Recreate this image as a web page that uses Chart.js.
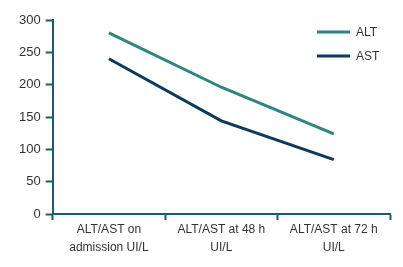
<!DOCTYPE html>
<html>
<head>
<meta charset="utf-8">
<script src="https://cdn.jsdelivr.net/npm/chart.js@4/dist/chart.umd.min.js"></script>
<style>
  html, body { margin: 0; padding: 0; background: #fff; }
  #wrap { width: 403px; height: 267px; }
</style>
</head>
<body>
<div id="wrap"><canvas id="chart1"></canvas></div>
<script>
var categories = [
    ['ALT/AST on', 'admission UI/L'],
    ['ALT/AST at 48 h', 'UI/L'],
    ['ALT/AST at 72 h', 'UI/L']
];
var altValues = [280, 196, 124];
var astValues = [240, 144, 84];
var seriesNames = ['ALT', 'AST'];

var axisColor = '#1d5a70';
var textColor = '#333333';

// draws the small two-row legend in the upper right of the plot
var sideLegend = {
    id: 'sideLegend',
    afterDraw(chart) {
        var ctx = chart.ctx;
        var area = chart.chartArea;
        ctx.save();
        ctx.font = '12px "Liberation Sans", Arial, sans-serif';
        ctx.textBaseline = 'middle';
        chart.data.datasets.forEach(function(ds, i) {
            var y = area.top + 12 + i * 24;
            var x = area.right - 73;
            ctx.strokeStyle = ds.borderColor;
            ctx.lineWidth = 3;
            ctx.beginPath();
            ctx.moveTo(x, y);
            ctx.lineTo(x + 33, y);
            ctx.stroke();
            ctx.fillStyle = textColor;
            ctx.fillText(ds.label, x + 39, y + 1);
        });
        ctx.restore();
    }
};

var ctx = document.getElementById('chart1').getContext('2d');
var chartObj = new Chart(ctx, {
    type: 'line',
    data: {
        labels: categories,
        datasets: [{
            label: seriesNames[0],
            data: altValues,
            borderColor: '#2f8585',
            borderWidth: 3,
            pointRadius: 0,
            tension: 0
        }, {
            label: seriesNames[1],
            data: astValues,
            borderColor: '#0c3a5c',
            borderWidth: 3,
            pointRadius: 0,
            tension: 0
        }]
    },
    options: {
        responsive: true,
        maintainAspectRatio: false,
        animation: false,
        layout: {
            padding: { top: 20, right: 13, left: 14, bottom: 9 }
        },
        plugins: {
            legend: { display: false },
            tooltip: { enabled: false }
        },
        scales: {
            x: {
                offset: true,
                grid: {
                    offset: true,
                    drawOnChartArea: false,
                    drawTicks: true,
                    tickLength: 6,
                    tickWidth: 2,
                    color: axisColor
                },
                border: { color: axisColor, width: 2 },
                ticks: {
                    color: textColor,
                    padding: 1,
                    maxRotation: 0,
                    font: { family: '"Liberation Sans", Arial, sans-serif', size: 12, lineHeight: 1.5 }
                }
            },
            y: {
                min: 0,
                max: 300,
                grid: {
                    drawOnChartArea: false,
                    drawTicks: true,
                    tickLength: 7,
                    tickWidth: 2,
                    color: axisColor
                },
                border: { color: axisColor, width: 2 },
                ticks: {
                    stepSize: 50,
                    color: textColor,
                    padding: 5,
                    font: { family: '"Liberation Sans", Arial, sans-serif', size: 13 }
                }
            }
        }
    },
    plugins: [sideLegend]
});
</script>
</body>
</html>
